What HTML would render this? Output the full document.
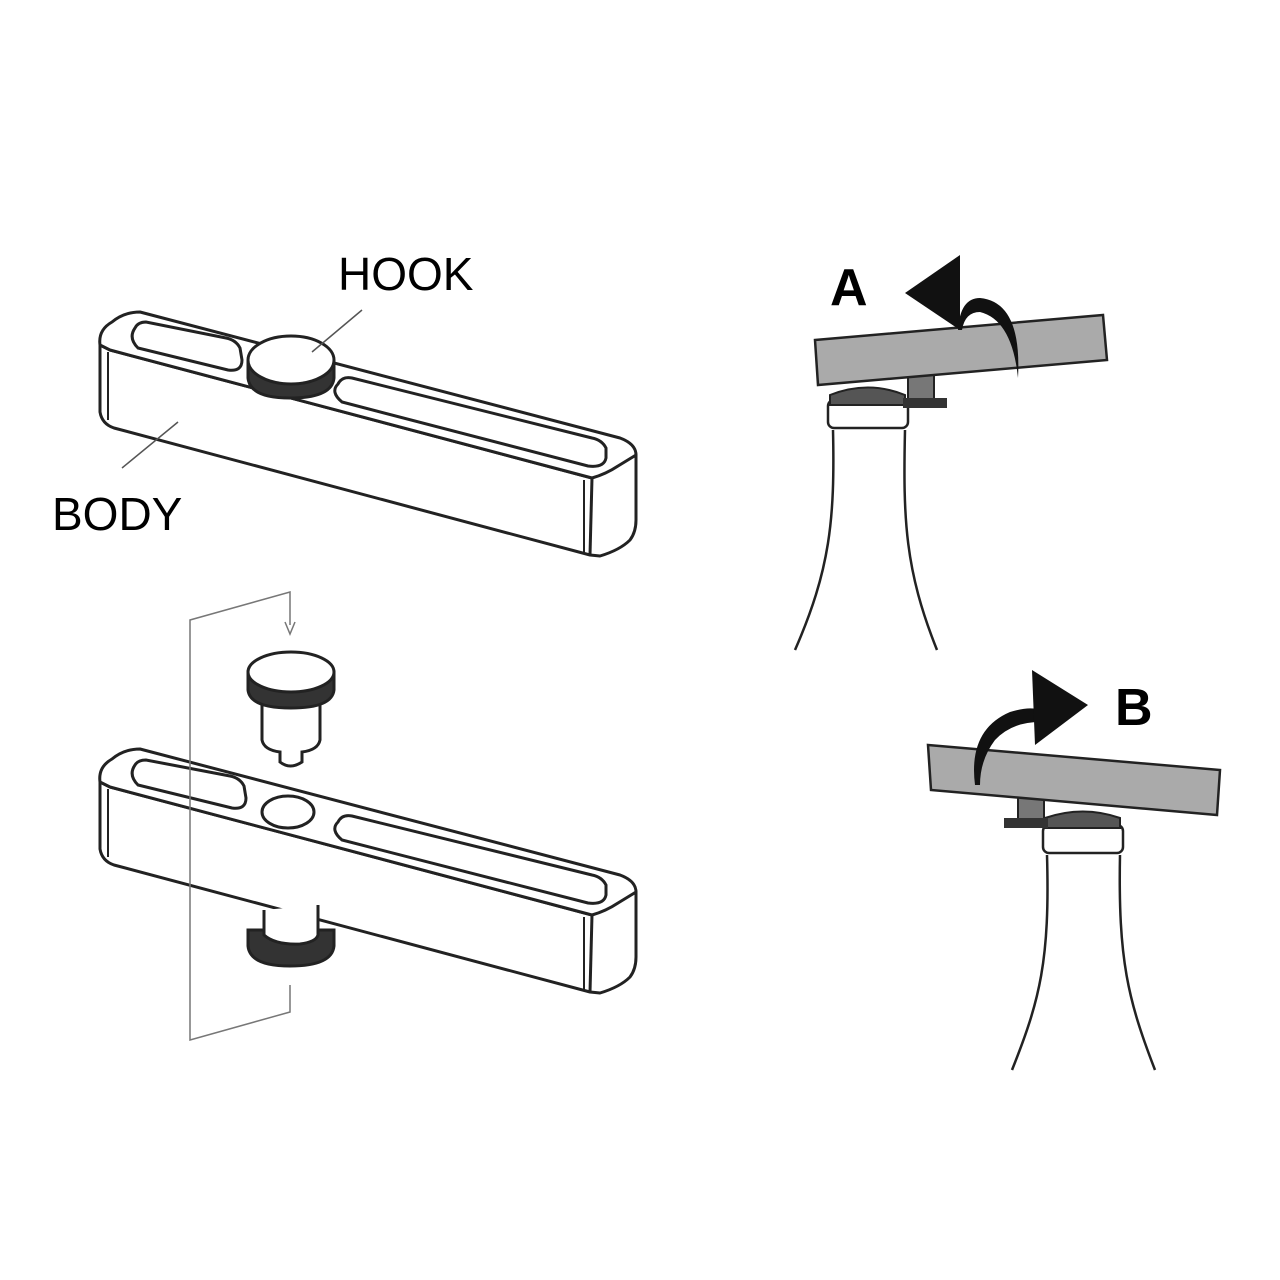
<!DOCTYPE html>
<html><head><meta charset="utf-8"><style>
html,body{margin:0;padding:0;background:#fff}
svg{display:block}
text{font-family:"Liberation Sans",sans-serif}
</style></head><body>
<svg width="1280" height="1280" viewBox="0 0 1280 1280" xmlns="http://www.w3.org/2000/svg">
<defs>
<g id="bar" fill="#fff" stroke="#222" stroke-width="3" stroke-linejoin="round">
  <path d="M100,345 L100,412 Q102,424 114,428 L590,555 L600,556 Q620,550 630,540 Q636,532 636,520 L636,455 L592,478 L110,350 Z"/>
  <path d="M100,345 Q98,330 112,322 Q124,312 140,312 L620,438 Q636,444 636,455 L618,466 Q606,474 592,478 L110,350 Z"/>
  <line x1="592" y1="478" x2="590" y2="555"/>
  <line x1="108" y1="352" x2="108" y2="420" stroke-width="2"/>
  <line x1="584" y1="480" x2="584" y2="552" stroke-width="2"/>
</g>
<g id="hook" stroke="#222" stroke-width="3">
  <path d="M248,362 L248,378 Q250,398 290,398 Q332,398 334,378 L334,362 Z" fill="#333"/>
  <ellipse cx="291" cy="360" rx="43" ry="24" fill="#fff"/>
</g>
</defs>

<use href="#bar"/>
<path d="M135,328 Q128,338 138,348 L228,370 Q242,372 242,360 L240,348 Q236,340 226,338 L146,322 Q138,322 135,328 Z" fill="#fff" stroke="#222" stroke-width="3"/>
<path d="M338,384 Q330,392 342,402 L588,466 Q604,468 606,458 L606,448 Q602,440 592,438 L352,378 Q342,376 338,384 Z" fill="#fff" stroke="#222" stroke-width="3"/>
<use href="#hook"/>
<line x1="312" y1="352" x2="362" y2="310" stroke="#555" stroke-width="1.5"/>
<line x1="178" y1="422" x2="122" y2="468" stroke="#555" stroke-width="1.5"/>
<text x="338" y="290" font-size="46">HOOK</text>
<text x="52" y="530" font-size="46">BODY</text>

<g transform="translate(0,437)"><use href="#bar"/></g>
<path d="M135,765 Q128,775 138,785 L232,808 Q246,810 246,798 L244,786 Q240,778 230,776 L146,760 Q138,760 135,765 Z" fill="#fff" stroke="#222" stroke-width="3"/>
<ellipse cx="288" cy="812" rx="26" ry="16" fill="#fff" stroke="#222" stroke-width="3"/>
<path d="M338,822 Q330,830 342,840 L588,903 Q604,905 606,895 L606,885 Q602,877 592,875 L352,816 Q342,814 338,822 Z" fill="#fff" stroke="#222" stroke-width="3"/>
<path d="M248,930 L248,946 Q250,966 290,966 Q332,966 334,946 L334,930 Z" fill="#333" stroke="#222" stroke-width="3"/>
<path d="M264,910 L264,935 Q275,945 300,944 Q316,942 318,935 L318,905" fill="#fff" stroke="#222" stroke-width="3"/>
<path d="M262,700 L262,740 Q264,750 280,752 L280,762 Q290,770 302,762 L302,752 Q318,750 320,740 L320,700 Z" fill="#fff" stroke="#222" stroke-width="3"/>
<path d="M248,672 L248,690 Q250,708 291,708 Q332,708 334,690 L334,672 Z" fill="#333" stroke="#222" stroke-width="3"/>
<ellipse cx="291" cy="672" rx="43" ry="20" fill="#fff" stroke="#222" stroke-width="3"/>
<polyline points="290,625 290,592 190,620 190,1040 290,1012 290,985" fill="none" stroke="#777" stroke-width="1.5"/>
<path d="M285,622 L290,634 L295,622" fill="none" stroke="#777" stroke-width="1.5"/>

<!-- A -->
<text x="830" y="305" font-size="52" font-weight="bold">A</text>
<path d="M833,430 C835,520 830,570 795,650" fill="none" stroke="#222" stroke-width="2.5"/>
<path d="M905,430 C903,520 905,570 937,650" fill="none" stroke="#222" stroke-width="2.5"/>
<rect x="828" y="400" width="80" height="28" rx="6" fill="#fff" stroke="#222" stroke-width="2.5"/>
<path d="M830,395 Q868,380 905,395 L905,405 L830,405 Z" fill="#555" stroke="#222" stroke-width="2"/>
<rect x="908" y="374" width="26" height="26" fill="#777" stroke="#222" stroke-width="2"/>
<rect x="903" y="398" width="44" height="10" fill="#333"/>
<polygon points="815,340 1103,315 1107,360 818,385" fill="#aaa" stroke="#222" stroke-width="2.5"/>
<path d="M958,330 Q960,298 980,298 Q1022,302 1018,378 Q1012,320 980,312 Q965,312 962,330 Z" fill="#111"/>
<path d="M905,293 L960,255 L960,330 Z" fill="#111"/>

<!-- B -->
<text x="1115" y="725" font-size="52" font-weight="bold">B</text>
<path d="M1047,855 C1050,960 1040,1000 1012,1070" fill="none" stroke="#222" stroke-width="2.5"/>
<path d="M1120,855 C1118,960 1128,1000 1155,1070" fill="none" stroke="#222" stroke-width="2.5"/>
<rect x="1043" y="825" width="80" height="28" rx="6" fill="#fff" stroke="#222" stroke-width="2.5"/>
<path d="M1045,818 Q1083,805 1120,818 L1120,828 L1045,828 Z" fill="#555" stroke="#222" stroke-width="2"/>
<rect x="1018" y="795" width="26" height="26" fill="#777" stroke="#222" stroke-width="2"/>
<rect x="1004" y="818" width="44" height="10" fill="#333"/>
<polygon points="928,745 1220,770 1217,815 931,790" fill="#aaa" stroke="#222" stroke-width="2.5"/>
<path d="M975,785 Q968,730 1010,712 Q1030,706 1040,710 L1040,722 Q1012,722 995,740 Q980,760 980,785 Z" fill="#111"/>
<path d="M1032,670 L1088,705 L1035,745 Z" fill="#111"/>
</svg>
</body></html>
